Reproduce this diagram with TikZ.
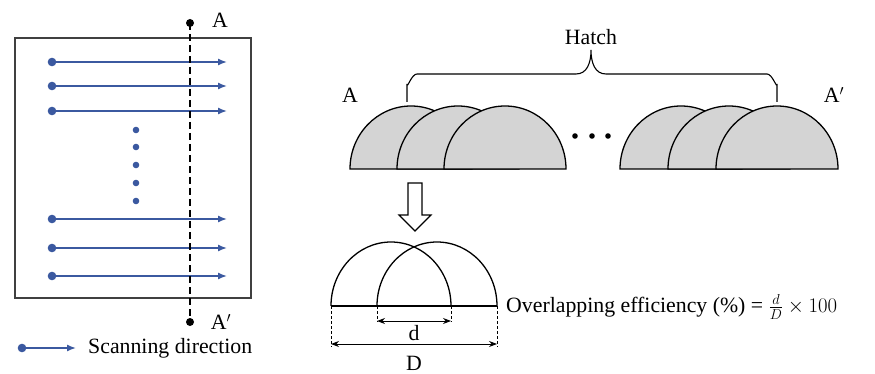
\documentclass[tikz,border=0pt]{standalone}
\usepackage{fontspec}
\setmainfont{Liberation Serif}
\usetikzlibrary{arrows.meta}
\definecolor{scanblue}{RGB}{59,89,160}
\definecolor{beadgray}{RGB}{212,212,212}
\begin{document}
\begin{tikzpicture}[x=1pt,y=-1pt,
  lbl/.style={font=\fontsize{21.8}{26}\selectfont, inner sep=0pt},
  scanline/.style={draw=scanblue, line width=1.4pt, -{Latex[length=9pt,width=7pt]}},
  scandot/.style={fill=scanblue},
  bead/.style={draw=black, line width=1.3pt, fill=beadgray},
  outline/.style={draw=black, line width=1.3pt},
  guide/.style={draw=black, line width=1pt, dash pattern=on 3pt off 2pt},
  dimarrow/.style={draw=black, line width=1pt, {Stealth[length=8pt,width=6pt]}-{Stealth[length=8pt,width=6pt]}}
]
\useasboundingbox (0,0) rectangle (875,374);

% ---------- left panel ----------
\draw[draw=black!75, line width=1.6pt] (15,38) rectangle (251,298);
\foreach \y [count=\i] in {62,86,111,219,248,276}{
  \coordinate (s\i) at (52,\y);
  \coordinate (e\i) at (227,\y);
  \draw[scanline] (s\i) -- (e\i);
  \fill[scandot] (s\i) circle (4.3);
}
\foreach \y in {130,147,165,183,201}{
  \fill[scandot] (136,\y) circle (3.3);
}
\coordinate (ta) at (190,23);
\coordinate (tb) at (190,322);
\draw[black, line width=1.4pt, dash pattern=on 7pt off 4pt] (ta) -- (tb);
\fill (ta) circle (4);
\fill (tb) circle (4);
\node[lbl] (lA) at (220,20) {A};
\node[lbl] (lAp) at (221,322) {A$'$};

% legend
\coordinate (ls) at (22,348);
\coordinate (le) at (76,348);
\draw[scanline] (ls) -- (le);
\fill[scandot] (ls) circle (4.3);
\node[lbl, anchor=west] (leg) at (88,348) {Scanning direction};

% ---------- top right: hatch ----------
\foreach \c in {411,458,505}{
  \draw[bead] (\c-61,169) arc[start angle=180, end angle=360, x radius=61, y radius=63] -- cycle;
}
\foreach \c in {681,729,777}{
  \draw[bead] (\c-61,169) arc[start angle=180, end angle=360, x radius=61, y radius=63] -- cycle;
}
\foreach \x in {575,592,608}{
  \fill (\x,136) circle (2.8);
}
\node[lbl] (rA) at (350,95) {A};
\node[lbl] (rAp) at (834,95) {A$'$};

% brace
\draw[black, line width=1.1pt]
  (407,102) -- (407,84) to[out=-90,in=180] (417,74) -- (576,74)
  .. controls (587,74) and (591,63) .. (591,50)
  .. controls (591,63) and (595,74) .. (606,74)
  -- (767,74) to[out=0,in=-90] (777,84) -- (777,102);
\node[lbl] (hatch) at (591,37) {Hatch};

% hollow arrow
\draw[black, line width=1.2pt, fill=white]
  (408,183) -- (422,183) -- (422,215) -- (431,215) -- (415,231)
  -- (399,215) -- (408,215) -- cycle;

% ---------- bottom: definition ----------
\draw[outline] (331,306) arc[start angle=180, end angle=360, x radius=60, y radius=64];
\draw[outline] (377,306) arc[start angle=180, end angle=360, x radius=60, y radius=64];
\coordinate (b1) at (331,306);
\coordinate (b2) at (377,306);
\coordinate (b3) at (451,306);
\coordinate (b4) at (497,306);
\draw[outline] (b1) -- (b4);
\coordinate (o1) at (331,347);
\coordinate (o4) at (497,347);
\coordinate (i2) at (377,322);
\coordinate (i3) at (451,322);
\draw[guide] (b1) -- (o1);
\draw[guide] (b4) -- (o4);
\draw[guide] (b2) -- (i2);
\draw[guide] (b3) -- (i3);
\draw[dimarrow] (377,321) -- (451,321);
\draw[dimarrow] (331,344) -- (497,344);
\node[lbl] (dl) at (414,333) {d};
\node[lbl] (Dl) at (414,363) {D};

\node[lbl, anchor=west] (formula) at (506,307)
  {Overlapping efficiency (\%) = $\frac{d}{D}\times 100$};
\end{tikzpicture}
\end{document}
